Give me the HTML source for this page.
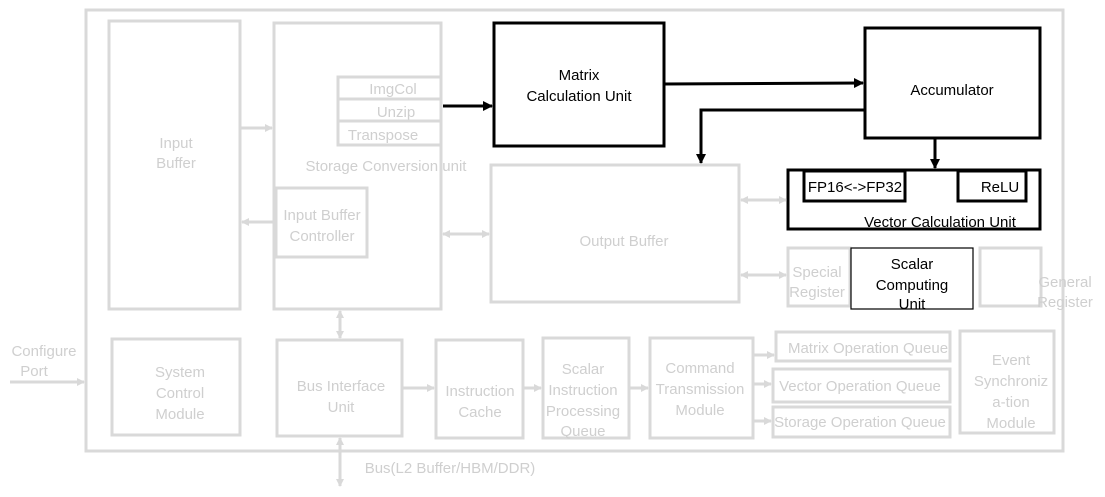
<!DOCTYPE html>
<html><head><meta charset="utf-8"><style>
html,body{margin:0;padding:0;background:#fff;}
svg{display:block;font-family:"Liberation Sans",sans-serif;}
.g{fill:none;stroke:#d9d9d9;stroke-width:3;}
.gt{fill:#cfcfcf;font-size:15px;text-anchor:middle;}
.b{fill:none;stroke:#000;stroke-width:3;}
.bt{fill:#000;font-size:15px;text-anchor:middle;}
</style></head><body>
<svg width="1105" height="497" viewBox="0 0 1105 497" xmlns="http://www.w3.org/2000/svg">
<defs>
<marker id="ga" markerWidth="8" markerHeight="8" refX="7" refY="4" orient="auto-start-reverse" markerUnits="userSpaceOnUse"><path d="M0,0 L8,4 L0,8 z" fill="#d9d9d9"/></marker>
<marker id="ba" markerWidth="10" markerHeight="10" refX="9" refY="5" orient="auto-start-reverse" markerUnits="userSpaceOnUse"><path d="M0,0 L10,5 L0,10 z" fill="#000"/></marker>
</defs>
<rect class="g" x="86" y="10" width="977" height="441"/>
<rect class="g" x="109" y="21" width="131" height="288"/>
<text class="gt" x="176" y="148">Input</text><text class="gt" x="176" y="168">Buffer</text>
<rect class="g" x="274" y="23" width="167" height="286"/>
<rect class="g" x="338" y="77" width="103" height="22"/><text class="gt" x="393" y="94">ImgCol</text>
<rect class="g" x="338" y="99" width="103" height="22"/><text class="gt" x="396" y="117">Unzip</text>
<rect class="g" x="338" y="121" width="103" height="24"/><text class="gt" x="383" y="140">Transpose</text>
<text class="gt" x="386" y="171">Storage Conversion unit</text>
<rect class="g" x="276" y="188" width="91" height="69"/>
<text class="gt" x="322" y="220">Input Buffer</text><text class="gt" x="322" y="241">Controller</text>
<rect class="b" x="494" y="23" width="170" height="123"/>
<text class="bt" x="579" y="80">Matrix</text><text class="bt" x="579" y="101">Calculation Unit</text>
<rect class="b" x="865" y="28" width="175" height="110"/>
<text class="bt" x="952" y="95">Accumulator</text>
<line x1="443" y1="106" x2="492" y2="106" stroke="#000" stroke-width="3" marker-end="url(#ba)"/>
<polyline points="664,84 863,83" fill="none" stroke="#000" stroke-width="3" marker-end="url(#ba)"/>
<polyline points="865,110 701,110 701,163" fill="none" stroke="#000" stroke-width="3" marker-end="url(#ba)"/>
<line x1="935" y1="139" x2="935" y2="168" stroke="#000" stroke-width="3" marker-end="url(#ba)"/>
<rect class="g" x="491" y="165" width="248" height="137"/>
<text class="gt" x="624" y="246">Output Buffer</text>
<rect class="b" x="788" y="170" width="252" height="59"/>
<rect class="b" x="804" y="171" width="101" height="30"/><text class="bt" x="855" y="192">FP16&lt;-&gt;FP32</text>
<rect class="b" x="958" y="171" width="68" height="30"/><text class="bt" x="1000" y="192">ReLU</text>
<text class="bt" x="940" y="227">Vector Calculation Unit</text>
<rect class="g" x="788" y="248" width="62" height="58"/>
<text class="gt" x="817" y="277">Special</text><text class="gt" x="817" y="297">Register</text>
<rect class="g" x="980" y="248" width="61" height="58"/>
<text class="gt" x="1065" y="287">General</text><text class="gt" x="1065" y="307">Register</text>
<rect x="851" y="248" width="122" height="61" fill="#fff" stroke="#000" stroke-width="1.2"/>
<text class="bt" x="912" y="269">Scalar</text><text class="bt" x="912" y="290">Computing</text><text class="bt" x="912" y="309">Unit</text>
<line class="g" x1="741" y1="200" x2="786" y2="200" marker-start="url(#ga)" marker-end="url(#ga)"/>
<line class="g" x1="741" y1="275" x2="786" y2="275" marker-start="url(#ga)" marker-end="url(#ga)"/>
<line class="g" x1="443" y1="234" x2="489" y2="234" marker-start="url(#ga)" marker-end="url(#ga)"/>
<line class="g" x1="240" y1="128" x2="272" y2="128" marker-end="url(#ga)"/>
<line class="g" x1="274" y1="222" x2="242" y2="222" marker-end="url(#ga)"/>
<line class="g" x1="340" y1="311" x2="340" y2="338" marker-start="url(#ga)" marker-end="url(#ga)"/>
<rect class="g" x="112" y="339" width="128" height="96"/>
<text class="gt" x="180" y="377">System</text><text class="gt" x="180" y="398">Control</text><text class="gt" x="180" y="419">Module</text>
<rect class="g" x="277" y="340" width="125" height="96"/>
<text class="gt" x="341" y="391">Bus Interface</text><text class="gt" x="341" y="412">Unit</text>
<rect class="g" x="436" y="340" width="87" height="98"/>
<text class="gt" x="480" y="396">Instruction</text><text class="gt" x="480" y="417">Cache</text>
<rect class="g" x="543" y="338" width="86" height="100"/>
<text class="gt" x="583" y="374">Scalar</text><text class="gt" x="583" y="395">Instruction</text><text class="gt" x="583" y="416">Processing</text><text class="gt" x="583" y="436">Queue</text>
<rect class="g" x="650" y="338" width="103" height="100"/>
<text class="gt" x="700" y="373">Command</text><text class="gt" x="700" y="394">Transmission</text><text class="gt" x="700" y="415">Module</text>
<line class="g" x1="402" y1="388" x2="434" y2="388" marker-end="url(#ga)"/>
<line class="g" x1="523" y1="388" x2="541" y2="388" marker-end="url(#ga)"/>
<line class="g" x1="629" y1="388" x2="648" y2="388" marker-end="url(#ga)"/>
<line class="g" x1="753" y1="355" x2="774" y2="355" marker-end="url(#ga)"/>
<line class="g" x1="753" y1="384" x2="771" y2="384" marker-end="url(#ga)"/>
<line class="g" x1="753" y1="421" x2="771" y2="421" marker-end="url(#ga)"/>
<rect class="g" x="776" y="332" width="174" height="29"/><text class="gt" x="868" y="353">Matrix Operation Queue</text>
<rect class="g" x="773" y="369" width="177" height="33"/><text class="gt" x="860" y="391">Vector Operation Queue</text>
<rect class="g" x="773" y="407" width="177" height="30"/><text class="gt" x="860" y="427">Storage Operation Queue</text>
<rect class="g" x="960" y="331" width="94" height="102"/>
<text class="gt" x="1011" y="365">Event</text><text class="gt" x="1011" y="386">Synchroniz</text><text class="gt" x="1011" y="407">a-tion</text><text class="gt" x="1011" y="428">Module</text>
<text class="gt" x="44" y="356">Configure</text><text class="gt" x="34" y="376">Port</text>
<line class="g" x1="10" y1="382" x2="84" y2="382" marker-end="url(#ga)"/>
<line class="g" x1="340" y1="438" x2="340" y2="486" marker-start="url(#ga)" marker-end="url(#ga)"/>
<text class="gt" x="450" y="473">Bus(L2 Buffer/HBM/DDR)</text>
</svg>
</body></html>
